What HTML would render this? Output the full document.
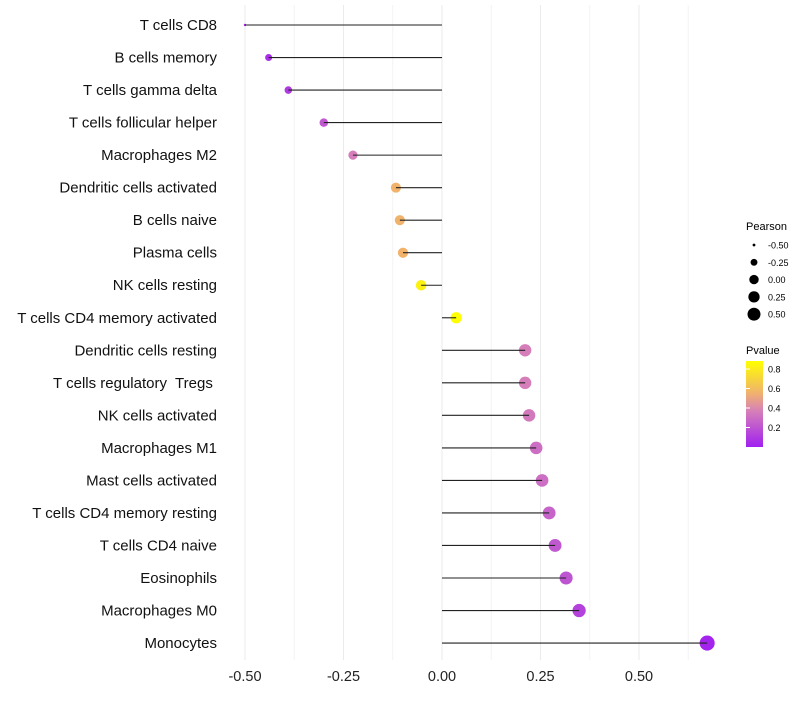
<!DOCTYPE html>
<html><head><meta charset="utf-8"><style>
body{margin:0;background:#fff;font-family:"Liberation Sans",sans-serif}
text{white-space:pre}
</style></head><body>
<svg id="chart" width="800" height="700" xmlns="http://www.w3.org/2000/svg">
<defs><linearGradient id="pg" x1="0" y1="1" x2="0" y2="0">
<stop offset="0" stop-color="#a020f0"/><stop offset="0.42" stop-color="#d680b8"/><stop offset="0.62" stop-color="#f0b070"/><stop offset="1" stop-color="#ffff00"/>
</linearGradient></defs>
<g id="grid"></g><g id="dots"></g><g id="marks"></g><g id="labels"></g>
<g font-size="10">
<text x="746" y="230" font-size="11">Pearson</text>
<g id="sizeLeg"></g>
<text x="746" y="354" font-size="11">Pvalue</text>
<rect x="746" y="361" width="17" height="86" fill="url(#pg)"/>
<g id="colLeg"></g>
</g>
</svg>
<script>
const categories=["T cells CD8","B cells memory","T cells gamma delta","T cells follicular helper","Macrophages M2","Dendritic cells activated","B cells naive","Plasma cells","NK cells resting","T cells CD4 memory activated","Dendritic cells resting","T cells regulatory  Tregs ","NK cells activated","Macrophages M1","Mast cells activated","T cells CD4 memory resting","T cells CD4 naive","Eosinophils","Macrophages M0","Monocytes"];
const pearson=[-0.50,-0.44,-0.39,-0.30,-0.226,-0.117,-0.107,-0.099,-0.053,0.036,0.211,0.211,0.221,0.239,0.254,0.272,0.287,0.315,0.348,0.673];
const pvalue=[0.03,0.06,0.1,0.22,0.36,0.56,0.56,0.56,0.82,0.88,0.36,0.36,0.34,0.3,0.3,0.26,0.22,0.2,0.13,0.02];
const xTicks=[-0.5,-0.25,0,0.25,0.5];
const xTickLabels=["-0.50","-0.25","0.00","0.25","0.50"];
const sizeLegend=[-0.5,-0.25,0,0.25,0.5];
const colorTicks=[0.8,0.6,0.4,0.2];
const NS="http://www.w3.org/2000/svg";
const xs=v=>442+v*394;
const ys=i=>25+i*32.53;
const rs=v=>Math.sqrt(Math.max(1.5,30+40*v-150*Math.max(0,-0.44-v)));
const ls=v=>Math.sqrt(Math.max(2,22+40*v));
const ps=p=>447-p*97.5;
function col(p){const t=Math.min(1,Math.max(0,p/0.88));
const st=[[0,[160,32,240]],[0.42,[214,128,184]],[0.62,[240,176,112]],[1,[255,255,0]]];
for(let k=1;k<st.length;k++){if(t<=st[k][0]){const a=st[k-1],b=st[k],f=(t-a[0])/(b[0]-a[0]);
return "rgb("+a[1].map((c,j)=>Math.round(c+(b[1][j]-c)*f)).join(",")+")";}}return "rgb(255,255,0)";}
function mk(tag,at,parent,txt){const e=document.createElementNS(NS,tag);for(const k in at)e.setAttribute(k,at[k]);if(txt!==undefined)e.textContent=txt;document.getElementById(parent).appendChild(e);return e;}
for(let v=-0.5;v<=0.626;v+=0.125){
const g=mk("line",{x1:xs(v),x2:xs(v),y1:5,y2:660,stroke:Math.abs(v*4-Math.round(v*4))<0.01?"#ebebeb":"#f4f4f4","stroke-width":1},"grid");

}
xTicks.forEach((v,i)=>{const t=mk("text",{x:xs(v),y:681,"text-anchor":"middle","font-size":14.5,fill:"#222"},"labels",xTickLabels[i]);

});
categories.forEach((c,i)=>{const y=ys(i);
const t=mk("text",{x:217,y:y+5,"text-anchor":"end","font-size":15,fill:"#111"},"labels",c);


const d=mk("circle",{cx:xs(pearson[i]),cy:y,r:rs(pearson[i]),fill:col(pvalue[i])},"dots");


const l=mk("line",{x1:xs(0),x2:xs(pearson[i]),y1:y,y2:y,stroke:"#222","stroke-width":1.1},"marks");

});
sizeLegend.forEach((v,i)=>{const y=245+i*17.3;
const c=mk("circle",{cx:754,cy:y,r:ls(v),fill:"#000"},"sizeLeg");


const t=mk("text",{x:768,y:y+3.5,"font-size":9},"sizeLeg",v.toFixed(2));

});
colorTicks.forEach(p=>{const t=mk("text",{x:768,y:ps(p)+3.5,"font-size":9},"colLeg",p.toFixed(1));


const tk=mk("line",{x1:746,x2:750,y1:ps(p),y2:ps(p),stroke:"#fff"},"colLeg");

});
</script>
</body></html>
